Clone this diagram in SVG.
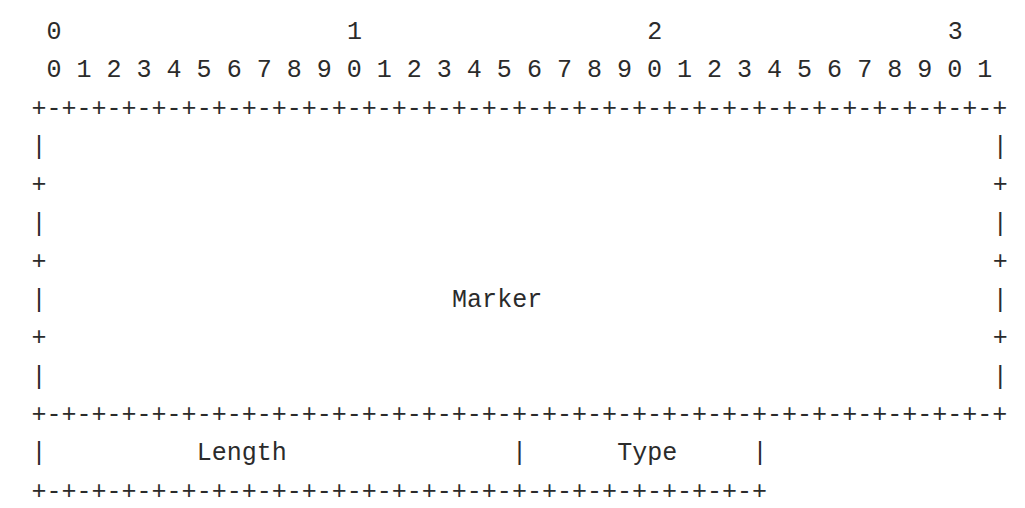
<svg xmlns="http://www.w3.org/2000/svg" width="1025" height="508" viewBox="0 0 1025 508">
<style>
text{font-family:"Liberation Mono","Courier New",monospace;font-size:25.03px;fill:#2b2b2b;white-space:pre}
</style>
<rect width="1025" height="508" fill="#ffffff"/>
<g id="bit-ruler">
<text x="46.5" y="39">0</text>
<text x="346.9" y="39">1</text>
<text x="647.3" y="39">2</text>
<text x="947.7" y="39">3</text>
<text x="46.5" y="77.3" xml:space="preserve">0 1 2 3 4 5 6 7 8 9 0 1 2 3 4 5 6 7 8 9 0 1 2 3 4 5 6 7 8 9 0 1</text>
</g>
<g id="connectors">
<text x="31.5" y="115.6">+-+-+-+-+-+-+-+-+-+-+-+-+-+-+-+-+-+-+-+-+-+-+-+-+-+-+-+-+-+-+-+-+</text>
<text x="31.5" y="422">+-+-+-+-+-+-+-+-+-+-+-+-+-+-+-+-+-+-+-+-+-+-+-+-+-+-+-+-+-+-+-+-+</text>
<text x="31.5" y="498.6">+-+-+-+-+-+-+-+-+-+-+-+-+-+-+-+-+-+-+-+-+-+-+-+-+</text>
</g>
<g id="marker">
<text x="31.5" y="153.9">|</text><text x="992.8" y="153.9">|</text>
<text x="31.5" y="192.2">+</text><text x="992.8" y="192.2">+</text>
<text x="31.5" y="230.5">|</text><text x="992.8" y="230.5">|</text>
<text x="31.5" y="268.8">+</text><text x="992.8" y="268.8">+</text>
<text x="31.5" y="307.1">|</text><text x="992.8" y="307.1">|</text>
<text x="452.1" y="307.1">Marker</text>
<text x="31.5" y="345.4">+</text><text x="992.8" y="345.4">+</text>
<text x="31.5" y="383.7">|</text><text x="992.8" y="383.7">|</text>
</g>
<g id="length">
<text x="31.5" y="460.3">|</text>
<text x="196.7" y="460.3">Length</text>
<text x="512.1" y="460.3">|</text>
</g>
<g id="type">
<text x="617.3" y="460.3">Type</text>
<text x="752.5" y="460.3">|</text>
</g>
</svg>
